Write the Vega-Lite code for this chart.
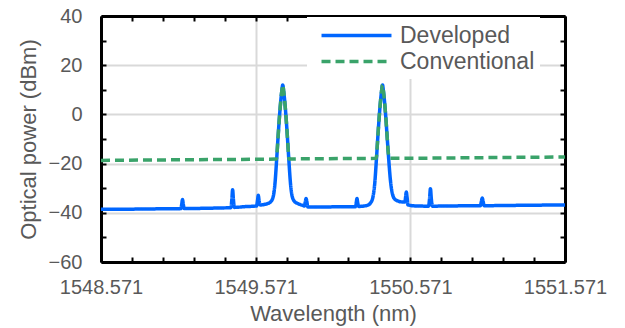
{
  "$schema": "https://vega.github.io/schema/vega-lite/v6.json",
  "width": 464,
  "height": 246,
  "autosize": {"type": "none"},
  "padding": {"left": 101, "top": 16, "right": 60, "bottom": 66},
  "background": "white",
  "config": {
    "view": {"stroke": null},
    "font": "Liberation Sans",
    "axis": {"labelFont": "Liberation Sans", "titleFont": "Liberation Sans"}
  },
  "data": {
    "values": [
      {"w": 1548.571, "p": -38.6, "s": "Developed"},
      {"w": 1548.8, "p": -38.5, "s": "Developed"},
      {"w": 1549.0, "p": -38.35, "s": "Developed"},
      {"w": 1549.087, "p": -38.3, "s": "Developed"},
      {"w": 1549.093, "p": -36.5, "s": "Developed"},
      {"w": 1549.098, "p": -34.6, "s": "Developed"},
      {"w": 1549.103, "p": -36.5, "s": "Developed"},
      {"w": 1549.109, "p": -38.3, "s": "Developed"},
      {"w": 1549.25, "p": -38.15, "s": "Developed"},
      {"w": 1549.411, "p": -37.9, "s": "Developed"},
      {"w": 1549.417, "p": -34.5, "s": "Developed"},
      {"w": 1549.422, "p": -30.6, "s": "Developed"},
      {"w": 1549.427, "p": -34.5, "s": "Developed"},
      {"w": 1549.433, "p": -37.8, "s": "Developed"},
      {"w": 1549.5, "p": -37.5, "s": "Developed"},
      {"w": 1549.577, "p": -37.2, "s": "Developed"},
      {"w": 1549.583, "p": -35.0, "s": "Developed"},
      {"w": 1549.588, "p": -32.9, "s": "Developed"},
      {"w": 1549.593, "p": -35.0, "s": "Developed"},
      {"w": 1549.599, "p": -36.8, "s": "Developed"},
      {"w": 1549.646, "p": -36.3, "s": "Developed"},
      {"w": 1549.671, "p": -35.3, "s": "Developed"},
      {"w": 1549.686, "p": -33.0, "s": "Developed"},
      {"w": 1549.696, "p": -28.0, "s": "Developed"},
      {"w": 1549.706, "p": -19.0, "s": "Developed"},
      {"w": 1549.716, "p": -9.0, "s": "Developed"},
      {"w": 1549.726, "p": 0.0, "s": "Developed"},
      {"w": 1549.734, "p": 6.0, "s": "Developed"},
      {"w": 1549.74, "p": 9.5, "s": "Developed"},
      {"w": 1549.746, "p": 12.0, "s": "Developed"},
      {"w": 1549.752, "p": 9.5, "s": "Developed"},
      {"w": 1549.758, "p": 6.0, "s": "Developed"},
      {"w": 1549.766, "p": 0.0, "s": "Developed"},
      {"w": 1549.776, "p": -9.0, "s": "Developed"},
      {"w": 1549.786, "p": -19.0, "s": "Developed"},
      {"w": 1549.796, "p": -28.0, "s": "Developed"},
      {"w": 1549.806, "p": -33.0, "s": "Developed"},
      {"w": 1549.821, "p": -35.3, "s": "Developed"},
      {"w": 1549.846, "p": -36.3, "s": "Developed"},
      {"w": 1549.876, "p": -37.0, "s": "Developed"},
      {"w": 1549.886, "p": -37.2, "s": "Developed"},
      {"w": 1549.892, "p": -35.5, "s": "Developed"},
      {"w": 1549.897, "p": -34.2, "s": "Developed"},
      {"w": 1549.902, "p": -35.5, "s": "Developed"},
      {"w": 1549.908, "p": -37.6, "s": "Developed"},
      {"w": 1550.0, "p": -37.6, "s": "Developed"},
      {"w": 1550.215, "p": -37.5, "s": "Developed"},
      {"w": 1550.221, "p": -36.0, "s": "Developed"},
      {"w": 1550.226, "p": -34.2, "s": "Developed"},
      {"w": 1550.231, "p": -36.0, "s": "Developed"},
      {"w": 1550.237, "p": -37.4, "s": "Developed"},
      {"w": 1550.291, "p": -37.0, "s": "Developed"},
      {"w": 1550.316, "p": -35.8, "s": "Developed"},
      {"w": 1550.331, "p": -33.0, "s": "Developed"},
      {"w": 1550.341, "p": -28.0, "s": "Developed"},
      {"w": 1550.351, "p": -19.0, "s": "Developed"},
      {"w": 1550.361, "p": -9.0, "s": "Developed"},
      {"w": 1550.371, "p": 0.0, "s": "Developed"},
      {"w": 1550.379, "p": 6.0, "s": "Developed"},
      {"w": 1550.385, "p": 9.5, "s": "Developed"},
      {"w": 1550.391, "p": 12.0, "s": "Developed"},
      {"w": 1550.397, "p": 9.5, "s": "Developed"},
      {"w": 1550.403, "p": 6.0, "s": "Developed"},
      {"w": 1550.411, "p": 0.0, "s": "Developed"},
      {"w": 1550.421, "p": -9.0, "s": "Developed"},
      {"w": 1550.431, "p": -18.0, "s": "Developed"},
      {"w": 1550.441, "p": -26.0, "s": "Developed"},
      {"w": 1550.456, "p": -32.5, "s": "Developed"},
      {"w": 1550.471, "p": -34.5, "s": "Developed"},
      {"w": 1550.491, "p": -35.2, "s": "Developed"},
      {"w": 1550.521, "p": -35.6, "s": "Developed"},
      {"w": 1550.536, "p": -35.6, "s": "Developed"},
      {"w": 1550.54, "p": -33.8, "s": "Developed"},
      {"w": 1550.545, "p": -31.5, "s": "Developed"},
      {"w": 1550.55, "p": -33.8, "s": "Developed"},
      {"w": 1550.556, "p": -36.8, "s": "Developed"},
      {"w": 1550.6, "p": -37.2, "s": "Developed"},
      {"w": 1550.689, "p": -37.3, "s": "Developed"},
      {"w": 1550.695, "p": -34.5, "s": "Developed"},
      {"w": 1550.701, "p": -30.2, "s": "Developed"},
      {"w": 1550.707, "p": -34.5, "s": "Developed"},
      {"w": 1550.713, "p": -37.3, "s": "Developed"},
      {"w": 1550.85, "p": -37.2, "s": "Developed"},
      {"w": 1551.024, "p": -37.1, "s": "Developed"},
      {"w": 1551.03, "p": -35.5, "s": "Developed"},
      {"w": 1551.036, "p": -34.0, "s": "Developed"},
      {"w": 1551.042, "p": -35.5, "s": "Developed"},
      {"w": 1551.048, "p": -37.1, "s": "Developed"},
      {"w": 1551.3, "p": -36.95, "s": "Developed"},
      {"w": 1551.571, "p": -36.8, "s": "Developed"},
      {"w": 1548.571, "p": -18.7, "s": "Conventional"},
      {"w": 1549.2, "p": -18.4, "s": "Conventional"},
      {"w": 1549.7, "p": -18.17, "s": "Conventional"},
      {"w": 1549.706, "p": -18.0, "s": "Conventional"},
      {"w": 1549.711, "p": -14.0, "s": "Conventional"},
      {"w": 1549.716, "p": -9.0, "s": "Conventional"},
      {"w": 1549.726, "p": 0.0, "s": "Conventional"},
      {"w": 1549.734, "p": 6.0, "s": "Conventional"},
      {"w": 1549.74, "p": 9.5, "s": "Conventional"},
      {"w": 1549.746, "p": 12.0, "s": "Conventional"},
      {"w": 1549.752, "p": 9.5, "s": "Conventional"},
      {"w": 1549.758, "p": 6.0, "s": "Conventional"},
      {"w": 1549.766, "p": 0.0, "s": "Conventional"},
      {"w": 1549.776, "p": -9.0, "s": "Conventional"},
      {"w": 1549.781, "p": -14.0, "s": "Conventional"},
      {"w": 1549.786, "p": -18.1, "s": "Conventional"},
      {"w": 1550.0, "p": -18.0, "s": "Conventional"},
      {"w": 1550.345, "p": -17.87, "s": "Conventional"},
      {"w": 1550.351, "p": -17.8, "s": "Conventional"},
      {"w": 1550.356, "p": -14.0, "s": "Conventional"},
      {"w": 1550.361, "p": -9.0, "s": "Conventional"},
      {"w": 1550.371, "p": 0.0, "s": "Conventional"},
      {"w": 1550.379, "p": 6.0, "s": "Conventional"},
      {"w": 1550.385, "p": 9.5, "s": "Conventional"},
      {"w": 1550.391, "p": 12.0, "s": "Conventional"},
      {"w": 1550.397, "p": 9.5, "s": "Conventional"},
      {"w": 1550.403, "p": 6.0, "s": "Conventional"},
      {"w": 1550.411, "p": 0.0, "s": "Conventional"},
      {"w": 1550.421, "p": -9.0, "s": "Conventional"},
      {"w": 1550.426, "p": -14.0, "s": "Conventional"},
      {"w": 1550.436, "p": -17.85, "s": "Conventional"},
      {"w": 1551.0, "p": -17.6, "s": "Conventional"},
      {"w": 1551.571, "p": -17.3, "s": "Conventional"}
    ]
  },
  "layer": [
    {
      "transform": [{"filter": "datum.s === 'Developed'"}],
      "mark": {"type": "line", "strokeWidth": 3.5, "interpolate": "monotone"},
      "encoding": {
        "x": {
          "field": "w", "type": "quantitative",
          "scale": {"domain": [1548.571, 1551.571], "nice": false, "zero": false},
          "axis": {
            "orient": "bottom",
            "values": [1548.571, 1548.771, 1548.971, 1549.171, 1549.371, 1549.571, 1549.771, 1549.971, 1550.171, 1550.371, 1550.571, 1550.771, 1550.971, 1551.171, 1551.371, 1551.571],
            "labelExpr": "abs((datum.value - 1548.571) - round(datum.value - 1548.571)) < 0.01 ? format(datum.value, '.3f') : ''",
            "labelOverlap": false, "labelFlush": false,
            "grid": true, "gridColor": "#d9d9d9", "gridWidth": 2,
            "gridOpacity": {"condition": {"test": "abs(datum.value - 1549.571) < 0.01 || abs(datum.value - 1550.571) < 0.01", "value": 1}, "value": 0},
            "tickSize": -5, "tickColor": "black", "tickWidth": 2,
            "domainColor": "black", "domainWidth": 3,
            "labelFontSize": 20, "labelColor": "#595959", "labelPadding": 20,
            "title": "Wavelength (nm)", "titleFontSize": 22, "titleColor": "#595959", "titleFontWeight": "normal", "titlePadding": 6
          }
        },
        "y": {
          "field": "p", "type": "quantitative",
          "scale": {"domain": [-60, 40], "nice": false, "zero": false},
          "axis": {
            "orient": "left",
            "values": [-60, -50, -40, -30, -20, -10, 0, 10, 20, 30, 40],
            "labelExpr": "datum.value % 20 === 0 ? datum.label : ''",
            "labelOverlap": false, "labelFlush": false,
            "grid": true, "gridColor": "#d9d9d9", "gridWidth": 2,
            "gridOpacity": {"condition": {"test": "datum.value % 20 === 0 && datum.value > -60 && datum.value < 40", "value": 1}, "value": 0},
            "tickSize": -5, "tickColor": "black", "tickWidth": 2,
            "domainColor": "black", "domainWidth": 3,
            "labelFontSize": 20, "labelColor": "#595959", "labelPadding": 24,
            "title": "Optical power (dBm)", "titleFontSize": 22, "titleColor": "#595959", "titleFontWeight": "normal", "titlePadding": 8
          }
        },
        "color": {
          "field": "s", "type": "nominal",
          "scale": {"domain": ["Developed", "Conventional"], "range": ["#0066ff", "#3aa36a"]},
          "legend": {
            "orient": "none", "legendX": 206, "legendY": 1, "title": null,
            "fillColor": "white", "padding": 5, "symbolType": "M-3,0H3",
            "symbolSize": 544, "symbolStrokeWidth": 3.5, "symbolOffset": 31, "rowPadding": -1,
            "labelFontSize": 23, "labelColor": "#595959", "labelOffset": 30, "labelFont": "Liberation Sans"
          }
        },
        "strokeDash": {
          "field": "s", "type": "nominal",
          "scale": {"domain": ["Developed", "Conventional"], "range": [[1, 0], [9, 5]]},
          "legend": {
            "orient": "none", "legendX": 206, "legendY": 1, "title": null,
            "fillColor": "white", "padding": 5, "symbolType": "M-3,0H3",
            "symbolSize": 544, "symbolStrokeWidth": 3.5, "symbolOffset": 31, "rowPadding": -1,
            "labelFontSize": 23, "labelColor": "#595959", "labelOffset": 30, "labelFont": "Liberation Sans"
          }
        }
      }
    },
    {
      "transform": [{"filter": "datum.s === 'Conventional'"}],
      "mark": {"type": "line", "strokeWidth": 3.5, "interpolate": "monotone"},
      "encoding": {
        "x": {
          "field": "w", "type": "quantitative",
          "axis": {
            "orient": "top",
            "values": [1548.571, 1548.771, 1548.971, 1549.171, 1549.371, 1549.571, 1549.771, 1549.971, 1550.171, 1550.371, 1550.571, 1550.771, 1550.971, 1551.171, 1551.371, 1551.571],
            "labels": false, "grid": false, "title": null,
            "tickSize": -5, "tickColor": "black", "tickWidth": 2,
            "domainColor": "black", "domainWidth": 3
          }
        },
        "y": {
          "field": "p", "type": "quantitative",
          "axis": {
            "orient": "right",
            "values": [-60, -50, -40, -30, -20, -10, 0, 10, 20, 30, 40],
            "labels": false, "grid": false, "title": null,
            "tickSize": -5, "tickColor": "black", "tickWidth": 2,
            "domainColor": "black", "domainWidth": 3
          }
        },
        "color": {"field": "s", "type": "nominal"},
        "strokeDash": {"field": "s", "type": "nominal"}
      }
    }
  ],
  "resolve": {"axis": {"x": "independent", "y": "independent"}}
}
